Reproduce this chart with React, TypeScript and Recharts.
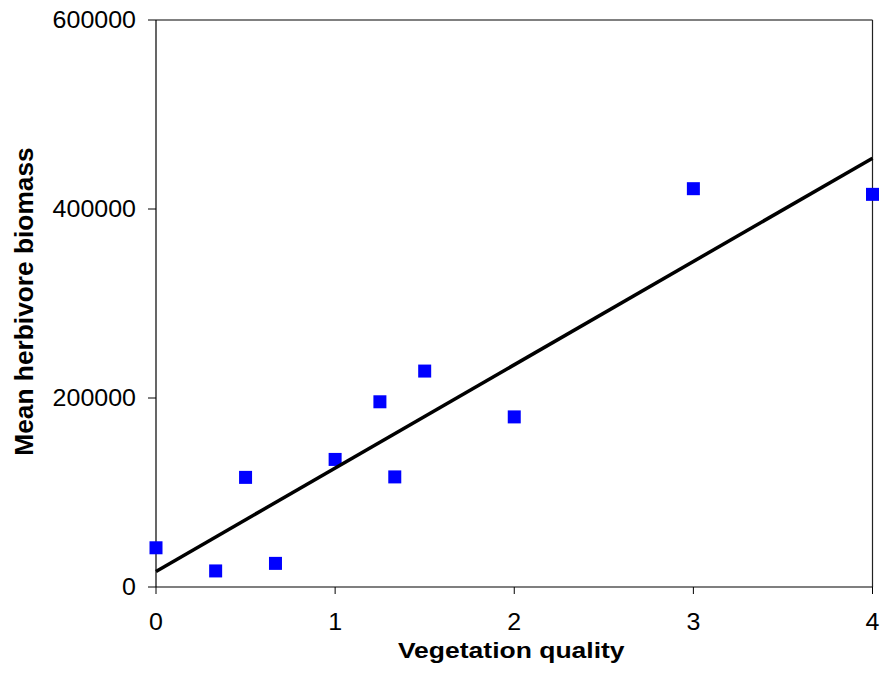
import React from "react";
import { ScatterChart, Scatter, XAxis, YAxis, ReferenceLine, Label } from "recharts";

const vegetationQuality = [0, 0.333, 0.5, 0.667, 1, 1.25, 1.333, 1.5, 2, 3, 4];
const herbivoreBiomass = [41500, 17000, 116000, 25000, 135000, 196000, 116500, 228500, 180000, 421500, 415500];
const trendX = [0, 4];
const trendY = [16500, 453800];
const xTicks = [0, 1, 2, 3, 4];
const yTicks = [0, 200000, 400000, 600000];

const pointData = vegetationQuality.map((x, i) => ({ x, y: herbivoreBiomass[i] }));
const trendData = trendX.map((x, i) => ({ x, y: trendY[i] }));

const FONT = '"Liberation Sans", Arial, sans-serif';

const YTick = (props: any) => {
  const { x, y, payload } = props;
  return (
    <g transform={`translate(${x},${y + 7.5}) scale(1,0.93)`}>
      <text x={0} y={0} textAnchor="end" fontFamily={FONT} fontSize={25} fill="#000">
        {payload.value}
      </text>
    </g>
  );
};

const XTick = (props: any) => {
  const { x, y, payload } = props;
  return (
    <g transform={`translate(${x},${y + 18}) scale(1,0.93)`}>
      <text x={0} y={0} textAnchor="middle" fontFamily={FONT} fontSize={25} fill="#000">
        {payload.value}
      </text>
    </g>
  );
};

const XLabel = (props: any) => {
  const vb = props.viewBox || { x: 156, y: 587, width: 716, height: 88 };
  const cx = vb.x + vb.width / 2 - 3;
  const by = vb.y + 71;
  return (
    <g transform={`translate(${cx},${by}) scale(1,0.8)`}>
      <text x={0} y={0} textAnchor="middle" fontFamily={FONT} fontWeight="bold" fontSize={26.5} fill="#000">
        Vegetation quality
      </text>
    </g>
  );
};

const YLabel = (props: any) => {
  const vb = props.viewBox || { x: 0, y: 20, width: 156, height: 567 };
  const cy = vb.y + vb.height / 2 - 2;
  return (
    <g transform={`translate(33,${cy}) rotate(-90)`}>
      <text x={0} y={0} textAnchor="middle" fontFamily={FONT} fontWeight="bold" fontSize={26.3} fill="#000">
        Mean herbivore biomass
      </text>
    </g>
  );
};

const SquareMarker = (props: any) => {
  const { cx, cy } = props;
  if (cx == null || cy == null) return <g />;
  return <rect x={cx - 6.5} y={cy - 6.5} width={13} height={13} fill="#0000FF" />;
};

const NoMarker = () => <g />;

export default function App() {
  return (
    <div style={{ position: "absolute", left: 0, top: 0, width: 882, height: 675, background: "#fff" }}>
      <ScatterChart width={882} height={675} margin={{ top: 20, right: 9.5, left: 0, bottom: 0 }}>
        <XAxis
          type="number"
          dataKey="x"
          domain={[0, 4]}
          ticks={xTicks}
          height={88}
          tickSize={7}
          tickMargin={18}
          tick={<XTick />}
          axisLine={{ stroke: "#000", strokeWidth: 1.2 }}
          tickLine={{ stroke: "#000", strokeWidth: 1 }}
        >
          <Label content={<XLabel />} />
        </XAxis>
        <YAxis
          type="number"
          dataKey="y"
          domain={[0, 600000]}
          ticks={yTicks}
          width={156}
          tickSize={8}
          tickMargin={12}
          tick={<YTick />}
          axisLine={{ stroke: "#000", strokeWidth: 1.2 }}
          tickLine={{ stroke: "#000", strokeWidth: 1 }}
        >
          <Label content={<YLabel />} />
        </YAxis>
        <ReferenceLine y={600000} stroke="#808080" strokeWidth={1.8} ifOverflow="visible" />
        <ReferenceLine x={4} stroke="#222" strokeWidth={1.2} ifOverflow="visible" />
        <Scatter data={pointData} shape={<SquareMarker />} isAnimationActive={false} />
        <Scatter
          data={trendData}
          line={{ stroke: "#000", strokeWidth: 3.5 }}
          shape={<NoMarker />}
          isAnimationActive={false}
        />
      </ScatterChart>
    </div>
  );
}
